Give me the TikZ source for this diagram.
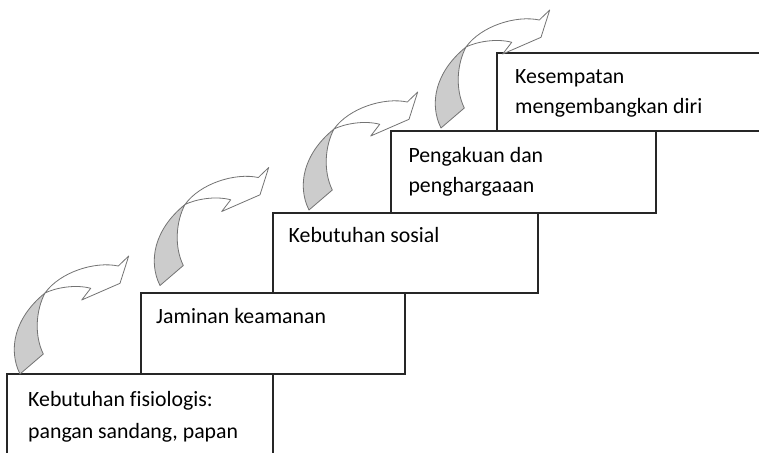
\documentclass[tikz,border=0pt]{standalone}
\usepackage{fontspec}
\setmainfont[Ligatures=NoCommon]{Carlito}
\begin{document}
\begin{tikzpicture}[x=1pt,y=-1pt,
  stepbox/.style={draw=black!85,line width=1.2pt,fill=white},
  lbl/.style={anchor=base west,inner sep=0pt,font=\fontsize{21.8}{26}\selectfont,text=black},
  greypart/.style={draw=black!55,line width=0.8pt,fill=black!20,line join=round},
  whitepart/.style={draw=black!55,line width=0.8pt,fill=white,line join=round}]
\useasboundingbox (0,0) rectangle (759,452);
\clip (0,0) rectangle (759,452);
% boxes
\path[stepbox] (497,53) rectangle (780,131) node[pos=0,inner sep=0pt] (b5) {};
\path[stepbox] (391,131) rectangle (656,213) node[pos=0,inner sep=0pt] (b4) {};
\path[stepbox] (273,213) rectangle (538,293) node[pos=0,inner sep=0pt] (b3) {};
\path[stepbox] (141,293) rectangle (405,374) node[pos=0,inner sep=0pt] (b2) {};
\path[stepbox] (7,374) rectangle (273,470) node[pos=0,inner sep=0pt] (b1) {};
% texts
\node[lbl] (t1a) at (28,406.5) {Kebutuhan fisiologis:};
\node[lbl] (t1b) at (28,438.3) {pangan sandang, papan};
\node[lbl] (t2) at (156,323.3) {Jaminan keamanan};
\node[lbl] (t3) at (288.5,242.7) {Kebutuhan sosial};
\node[lbl] (t4a) at (408.3,162.3) {Pengakuan dan};
\node[lbl] (t4b) at (408.3,192.7) {penghargaaan};
\node[lbl] (t5a) at (515,83.3) {Kesempatan};
\node[lbl] (t5b) at (515,113.3) {mengembangkan diri};
% curved arrows
\foreach \dx/\dy in {0/0,140/-88.5,289/-164,421/-246}{
\begin{scope}[shift={(\dx,\dy)}]
\path[whitepart] (45,293) .. controls (55,288) and (75,284) .. (90.7,288.3)
  -- (81.7,300) -- (120,283.3) -- (128.7,256) -- (118.3,266)
  .. controls (95,261) and (60,272) .. (45,293) -- cycle;
\path[greypart] (20,374) .. controls (8,350) and (14,318) .. (45,293)
  .. controls (36,310) and (34,335) .. (43.3,354) -- cycle;
\end{scope}}
\end{tikzpicture}
\end{document}
